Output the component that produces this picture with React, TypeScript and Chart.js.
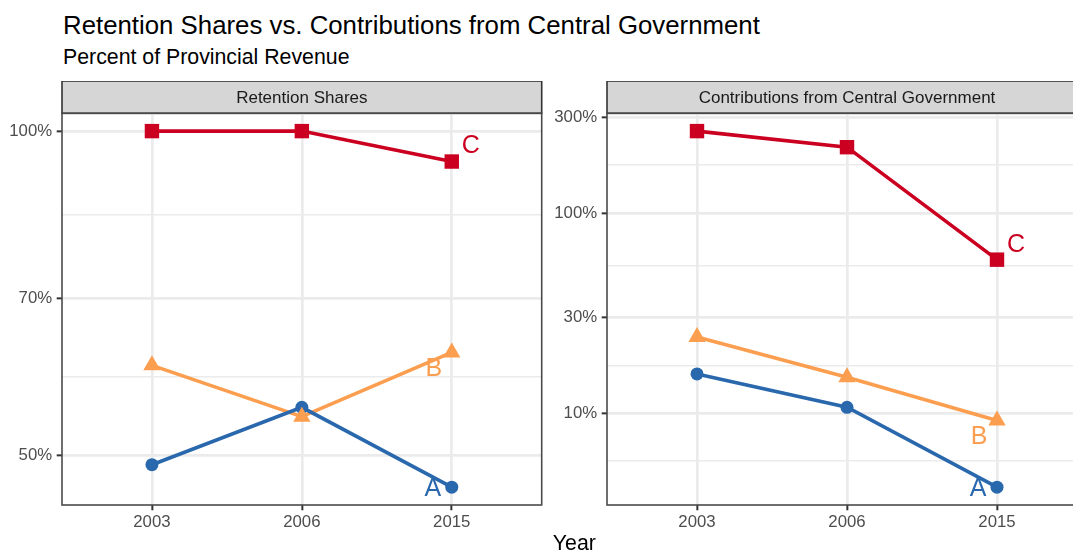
import React, { useRef, useEffect } from 'react';
import { Chart, registerables } from 'chart.js';

Chart.register(...registerables);

const years = ['2003', '2006', '2015'];
const seriesNames = ['A', 'B', 'C'];

// Retention Shares (% of provincial revenue)
const retentionA = [49.0, 55.4, 46.7];
const retentionB = [60.6, 54.3, 62.3];
const retentionC = [100, 100, 93.7];

// Contributions from Central Government (% of provincial revenue)
const centralA = [15.7, 10.7, 4.27];
const centralB = [24.0, 15.1, 9.2];
const centralC = [256, 212.8, 58.4];

const retentionTicks = [50, 70, 100];
const centralTicks = [10, 30, 100, 300];

const colors = ['#2A68AD', '#FC9E4F', '#CB0020'];
const pointStyles = ['circle', 'triangle', 'rect'];
const pointRadii = [6.5, 10, 10.2];
const labelOffsets = [[-19, 2], [-18, 17], [19, -15]];

const FONT = '"Liberation Sans", Arial, Helvetica, sans-serif';
const STRIP_H = 32.3;

function logLimits(values: number[]) {
  const logs = values.map((v) => Math.log10(v));
  const lo = Math.min(...logs);
  const hi = Math.max(...logs);
  const pad = (hi - lo) * 0.05;
  return [10 ** (lo - pad), 10 ** (hi + pad)];
}

// same rule ggplot uses for minor breaks: midpoints in transformed space
function minorBreaks(majors: number[], min: number, max: number) {
  let b = majors.map((v) => Math.log10(v));
  const bd = b[1] - b[0];
  if (Math.log10(min) < b[0]) b = [b[0] - bd, ...b];
  if (Math.log10(max) > b[b.length - 1]) b = [...b, b[b.length - 1] + bd];
  const out: number[] = [];
  for (let i = 0; i < b.length - 1; i++) out.push(10 ** ((b[i] + b[i + 1]) / 2));
  return out.filter((v) => v > min && v < max);
}

interface PanelProps {
  title: string;
  series: number[][];
  majors: number[];
  left: number;
  width: number;
  yAxisWidth: number;
  padRight: number;
}

const Panel: React.FC<PanelProps> = ({ title, series, majors, left, width, yAxisWidth, padRight }) => {
  const canvasRef = useRef<HTMLCanvasElement>(null);
  const height = 460;

  useEffect(() => {
    if (!canvasRef.current) return;
    const [min, max] = logLimits(series.flat());
    const minors = minorBreaks(majors, min, max);
    const isMajor = (v: number) => majors.some((m) => Math.abs(m - v) < 1e-6);

    const lineSets = series.map((vals, i) => ({
      label: seriesNames[i],
      data: vals.map((v, j) => ({ x: j + 1, y: v })),
      borderColor: colors[i],
      borderWidth: 3.6,
      pointRadius: 0,
      showLine: true,
      fill: false,
      order: 10,
      clip: false as const,
    }));
    const pointSets = series.map((vals, i) => ({
      label: seriesNames[i] + ' pts',
      data: vals.map((v, j) => ({ x: j + 1, y: v })),
      showLine: false,
      pointStyle: pointStyles[i],
      pointRadius: pointRadii[i],
      pointBackgroundColor: colors[i],
      pointBorderWidth: 0,
      order: 3 - i,
      clip: false as const,
    }));

    const facet = {
      id: 'facet',
      beforeDraw(chart: any) {
        const { ctx, chartArea: a } = chart;
        ctx.save();
        ctx.fillStyle = '#D6D6D6';
        ctx.fillRect(a.left, a.top - STRIP_H, a.right - a.left, STRIP_H);
        ctx.strokeStyle = '#333333';
        ctx.lineWidth = 1.6;
        ctx.strokeRect(a.left, a.top - STRIP_H, a.right - a.left, STRIP_H);
        ctx.fillStyle = '#1A1A1A';
        ctx.font = `17px ${FONT}`;
        ctx.textAlign = 'center';
        ctx.textBaseline = 'middle';
        ctx.fillText(title, (a.left + a.right) / 2, a.top - STRIP_H / 2 + 1);
        ctx.restore();
      },
      afterDatasetsDraw(chart: any) {
        const { ctx } = chart;
        const xs = chart.scales.x;
        const ys = chart.scales.y;
        ctx.save();
        ctx.font = `25px ${FONT}`;
        ctx.textAlign = 'center';
        ctx.textBaseline = 'middle';
        series.forEach((vals, i) => {
          const last = vals.length - 1;
          const px = xs.getPixelForValue(last + 1) + labelOffsets[i][0];
          const py = ys.getPixelForValue(vals[last]) + labelOffsets[i][1];
          ctx.fillStyle = colors[i];
          ctx.fillText(seriesNames[i], px, py);
        });
        ctx.restore();
      },
      afterDraw(chart: any) {
        const { ctx, chartArea: a } = chart;
        ctx.save();
        ctx.strokeStyle = '#4A4A4A';
        ctx.lineWidth = 1.6;
        ctx.strokeRect(a.left, a.top, a.right - a.left, a.bottom - a.top);
        ctx.restore();
      },
    };

    const chart = new Chart(canvasRef.current, {
      type: 'line',
      data: { datasets: [...lineSets, ...pointSets] as any },
      options: {
        animation: false,
        responsive: false,
        events: [],
        layout: { padding: { top: STRIP_H, right: padRight, left: 0, bottom: 0 } },
        plugins: { legend: { display: false }, tooltip: { enabled: false } },
        scales: {
          x: {
            type: 'linear',
            min: 0.4,
            max: 3.6,
            afterBuildTicks: (s: any) => {
              s.ticks = years.map((_, i) => ({ value: i + 1 }));
            },
            afterFit: (s: any) => {
              s.height = 36;
            },
            ticks: {
              callback: (v: any) => years[Math.round(Number(v)) - 1] ?? '',
              font: { family: FONT, size: 16.8 },
              color: '#4D4D4D',
              padding: 2,
              autoSkip: false,
              maxRotation: 0,
            },
            grid: {
              color: '#EBEBEB',
              lineWidth: 2.7,
              tickColor: '#333333',
              tickLength: 5.3,
              tickWidth: 2,
            },
            border: { display: false },
          },
          y: {
            type: 'logarithmic',
            min,
            max,
            afterBuildTicks: (s: any) => {
              s.ticks = [...majors, ...minors].sort((a, b) => a - b).map((v) => ({ value: v }));
            },
            afterFit: (s: any) => {
              s.width = yAxisWidth;
            },
            ticks: {
              callback: (v: any) => (isMajor(Number(v)) ? `${Number(v)}%` : ''),
              font: { family: FONT, size: 16.8 },
              color: '#4D4D4D',
              padding: 4.5,
              autoSkip: false,
            },
            grid: {
              color: '#EBEBEB',
              lineWidth: (c: any) => (c.tick && isMajor(c.tick.value) ? 2.7 : 1.4),
              tickColor: (c: any) => (c.tick && isMajor(c.tick.value) ? '#333333' : 'rgba(0,0,0,0)'),
              tickLength: 5.3,
              tickWidth: 2,
            },
            border: { display: false },
          },
        },
      } as any,
      plugins: [facet],
    });
    return () => {
      chart.destroy();
    };
  }, [title, series, majors, yAxisWidth, padRight]);

  return (
    <canvas
      ref={canvasRef}
      width={width}
      height={height}
      style={{ position: 'absolute', left, top: 81, width, height }}
    />
  );
};

const retentionSeries = [retentionA, retentionB, retentionC];
const centralSeries = [centralA, centralB, centralC];

export default function App() {
  return (
    <div style={{ position: 'fixed', left: 0, top: 0, width: '100vw', height: '100vh', overflow: 'hidden', background: '#fff' }}>
      <div style={{ position: 'absolute', left: 0, top: 0, width: 1100, height: 554, fontFamily: FONT }}>
        <div style={{ position: 'absolute', left: 63, top: 13.3, fontSize: 25.8, lineHeight: 1, color: '#000', whiteSpace: 'nowrap' }}>
          Retention Shares vs. Contributions from Central Government
        </div>
        <div style={{ position: 'absolute', left: 63, top: 47, fontSize: 21.3, lineHeight: 1, color: '#000', whiteSpace: 'nowrap' }}>
          Percent of Provincial Revenue
        </div>
        <Panel title="Retention Shares" series={retentionSeries} majors={retentionTicks} left={0} width={560} yAxisWidth={62} padRight={18.3} />
        <Panel title="Contributions from Central Government" series={centralSeries} majors={centralTicks} left={545} width={555} yAxisWidth={62} padRight={13} />
        <div style={{ position: 'absolute', left: 474.3, width: 200, textAlign: 'center', top: 532.7, fontSize: 21.3, lineHeight: 1, color: '#000' }}>
          Year
        </div>
      </div>
    </div>
  );
}
